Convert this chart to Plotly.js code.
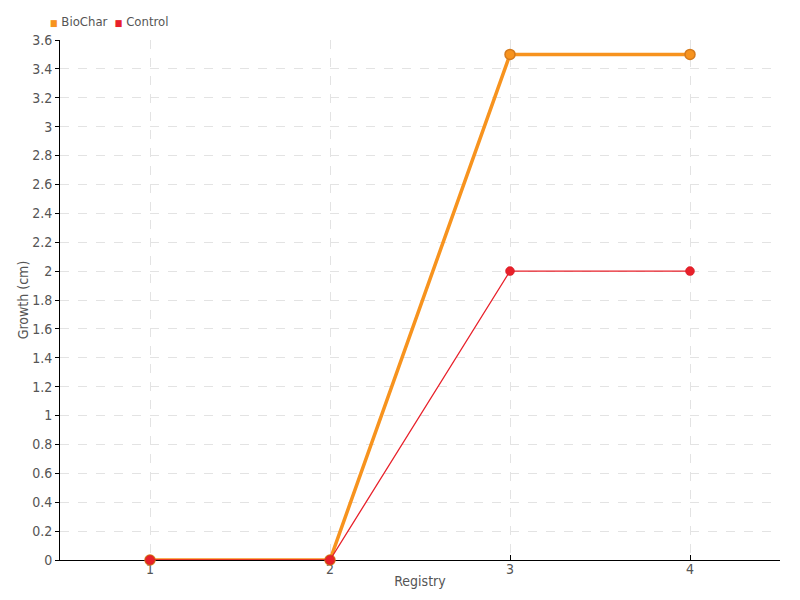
<!DOCTYPE html>
<html>
<head>
<meta charset="utf-8">
<script src="https://cdn.plot.ly/plotly-3.0.1.min.js"></script>
<style>
html,body{margin:0;padding:0;background:#fff;}
#chart{width:800px;height:600px;}
#chart text{font-stretch:condensed !important;}
</style>
</head>
<body>
<div id="chart"></div>
<script>
var registry = [1, 2, 3, 4];
var biochar = [0, 0, 3.5, 3.5];
var control = [0, 0, 2, 2];
var seriesNames = ["BioChar", "Control"];
var orange = "#f7931e";
var red = "#e8202a";
var fontFam = "'DejaVu Sans Condensed', 'DejaVu Sans', sans-serif";

var traces = [
  {x: registry, y: biochar, mode: "lines+markers", name: seriesNames[0], cliponaxis: false,
   line: {color: orange, width: 3.5},
   marker: {color: orange, size: 10, line: {color: "#d57a1c", width: 1.5}}},
  {x: registry, y: control, mode: "lines+markers", name: seriesNames[1], cliponaxis: false,
   line: {color: red, width: 1.3},
   marker: {color: red, size: 9, line: {color: "#d01a22", width: 0.5}}}
];

var legendText = "<span style='color:" + orange + ";font-size:9px'>■</span> " + seriesNames[0] +
                 "  <span style='color:" + red + ";font-size:9px'>■</span> " + seriesNames[1];

var layout = {
  width: 800, height: 600,
  margin: {l: 60, r: 20, t: 40, b: 40},
  paper_bgcolor: "#fff", plot_bgcolor: "#fff",
  font: {family: fontFam, size: 14, color: "#555"},
  showlegend: false,
  annotations: [{
    text: legendText, xref: "paper", yref: "paper", x: -0.017, y: 1.0, yshift: 19,
    xanchor: "left", yanchor: "middle", showarrow: false, font: {size: 13, color: "#555", family: fontFam}
  }],
  xaxis: {
    range: [0.5, 4.5], tickmode: "array", tickvals: registry, ticktext: registry.map(String),
    showline: true, linecolor: "#000", linewidth: 1, layer: "below traces",
    showgrid: true, gridcolor: "#e3e3e3", griddash: "dash", gridwidth: 1,
    ticks: "inside", ticklen: 5, tickcolor: "#000", zeroline: false, ticklabelstandoff: -4,
    title: {text: "Registry", font: {size: 14, color: "#555"}, standoff: 0}
  },
  yaxis: {
    range: [0, 3.6], dtick: 0.2, tick0: 0,
    showline: true, linecolor: "#000", linewidth: 1, layer: "below traces",
    showgrid: true, gridcolor: "#e3e3e3", griddash: "dash", gridwidth: 1,
    ticks: "outside", ticklen: 4, tickcolor: "#000", zeroline: false,
    title: {text: "Growth (cm)", font: {size: 14, color: "#555"}, standoff: 0}
  }
};
Plotly.newPlot("chart", traces, layout, {displayModeBar: false});
</script>
</body>
</html>
